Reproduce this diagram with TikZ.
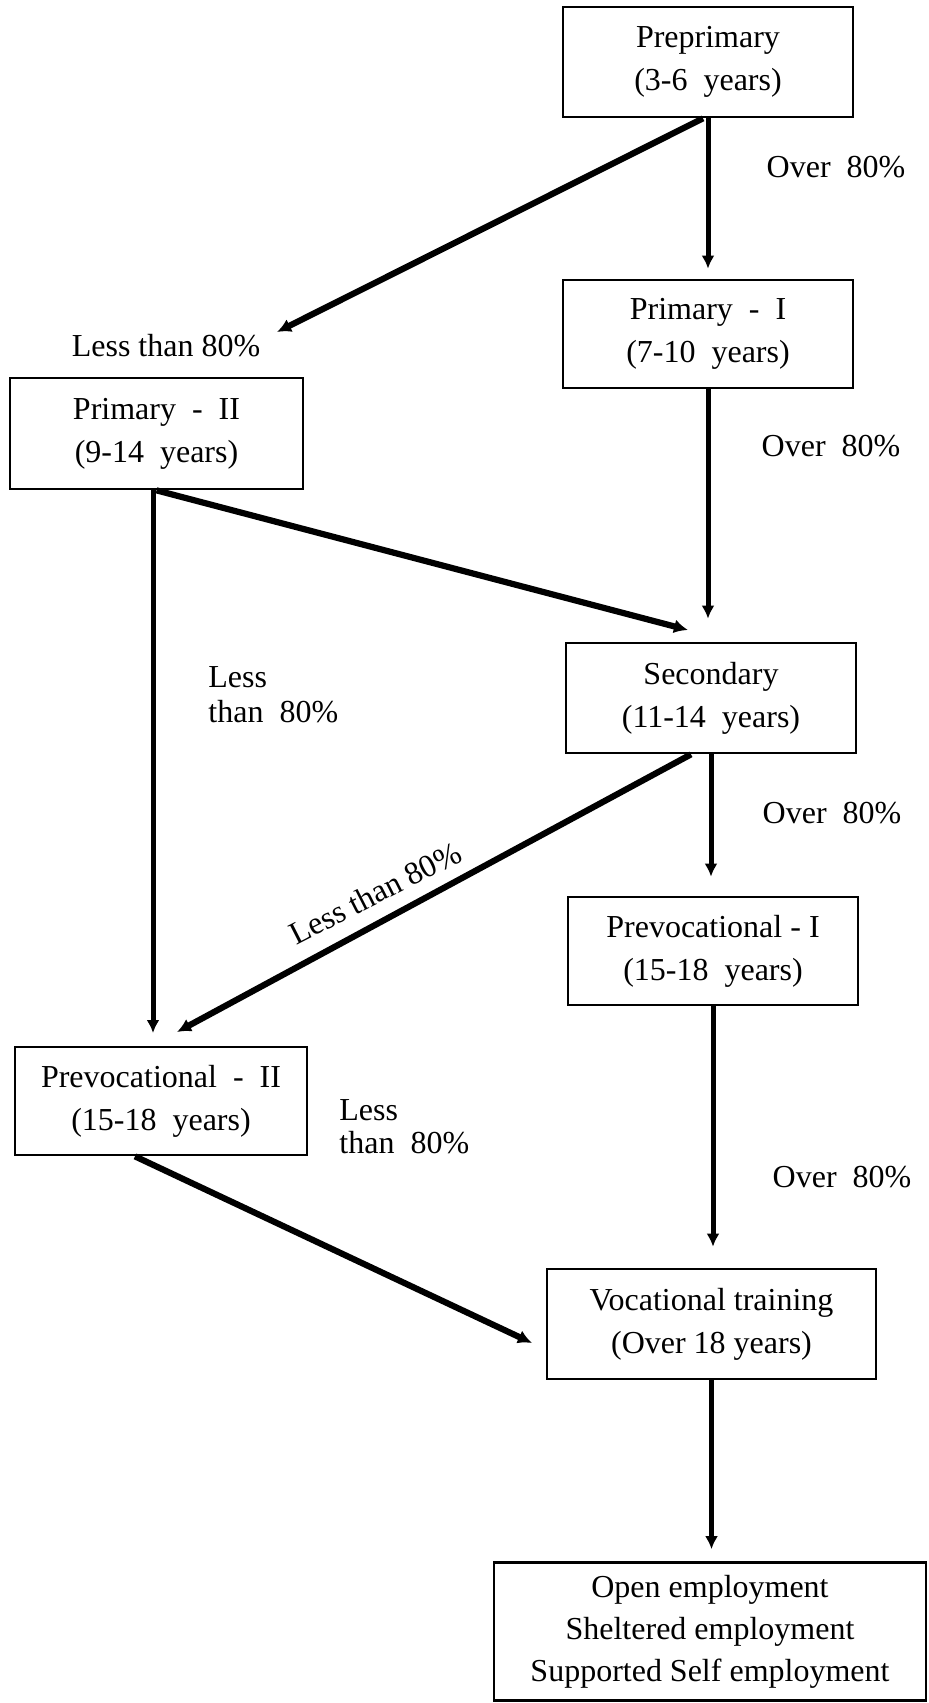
\documentclass[tikz,border=0pt]{standalone}
\usepackage{fontspec}
\setmainfont{Liberation Serif}
\usetikzlibrary{arrows.meta,calc}
\begin{document}
\begin{tikzpicture}[x=0.5pt,y=-0.5pt,
  box/.style={draw,line width=1.35pt,inner sep=0pt,align=center,font=\fontsize{16}{21.5}\selectfont},
  lbl/.style={inner sep=0pt,font=\fontsize{16}{19}\selectfont},
  arr/.style={line width=2.5pt,-{Latex[length=6.5pt,width=6.5pt]}},
  darr/.style={line width=3.1pt,-{Latex[length=7pt,width=7pt]}}]
\useasboundingbox (0,0) rectangle (928,1703);
% boxes
\node[box,minimum width=145pt,minimum height=55pt] (pre) at (708,62) {Preprimary\\(3-6~ years)};
\node[box,minimum width=145pt,minimum height=54pt] (p1) at (708,334) {Primary~ -~ I\\(7-10~ years)};
\node[box,minimum width=146.5pt,minimum height=55.5pt] (p2) at (156.5,433.5) {Primary~ -~ II\\(9-14~ years)};
\node[box,minimum width=145pt,minimum height=55pt] (sec) at (711,698) {Secondary\\(11-14~ years)};
\node[box,minimum width=145pt,minimum height=54pt] (pv1) at (713,951) {Prevocational - I\\(15-18~ years)};
\node[box,minimum width=146pt,minimum height=54pt] (pv2) at (161,1101) {Prevocational~ -~ II\\(15-18~ years)};
\node[box,minimum width=164.5pt,minimum height=55pt] (voc) at (711.5,1324) {Vocational training\\(Over 18 years)};
\node[box,minimum width=216pt,minimum height=69pt,font=\fontsize{16}{21}\selectfont] (emp) at (710,1631.5) {Open employment\\Sheltered employment\\Supported Self employment};
% free ends
\coordinate (t1) at (277,332);
\coordinate (t4) at (688,630);
\coordinate (t5) at (153,1033);
\coordinate (t7) at (177,1032);
\coordinate (t9) at (532,1343);
% connectors
\draw[arr] (pre.south) -- ($(pre.south|-p1.north)+(0,-10)$);
\draw[darr] ([xshift=-2.5pt]pre.south) -- (t1);
\draw[arr] (p1.south) -- ($(p1.south|-sec.north)+(0,-23)$);
\draw[darr] (p2.south) -- (t4);
\draw[arr] (t5|-p2.south) -- (t5);
\draw[arr] (sec.south) -- ($(sec.south|-pv1.north)+(0,-19)$);
\draw[darr] ([xshift=-10pt]sec.south) -- (t7);
\draw[arr] (pv1.south) -- ($(pv1.south|-voc.north)+(0,-21)$);
\draw[darr] ([xshift=-13pt]pv2.south) -- (t9);
\draw[arr] (voc.south) -- ($(voc.south|-emp.north)+(0,-12)$);
% labels
\node[lbl] (l1) at (836,167) {Over~ 80\%};
\node[lbl] (l2) at (166,346) {Less than 80\%};
\node[lbl] (l3) at (831,446) {Over~ 80\%};
\node[lbl,align=left,anchor=north west,font=\fontsize{16}{17.5}\selectfont] (l4) at (208,666) {Less\\than~ 80\%};
\node[lbl] (l5) at (832,813) {Over~ 80\%};
\node[lbl,rotate=27] (l6) at (375,893) {Less than 80\%};
\node[lbl,align=left,anchor=north west,font=\fontsize{16}{16.5}\selectfont] (l7) at (339,1099) {Less\\than~ 80\%};
\node[lbl] (l8) at (842,1177) {Over~ 80\%};
\end{tikzpicture}
\end{document}
